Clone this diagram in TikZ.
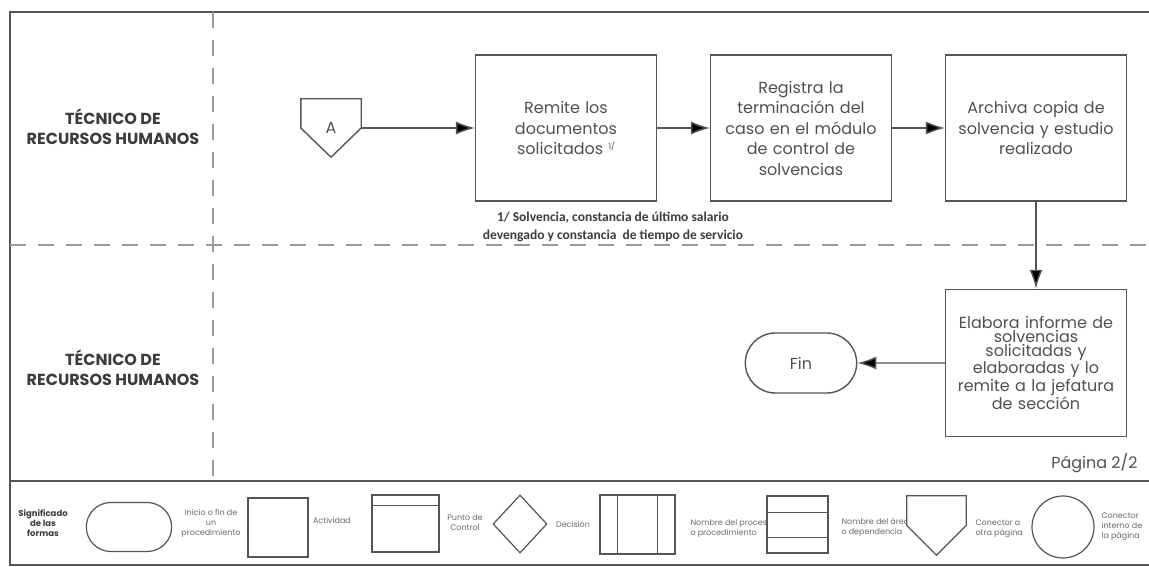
\documentclass[tikz,border=0pt]{standalone}
\usepackage{fontspec}
\setmainfont{Poppins}
\newfontfamily\notefont{Carlito}
\usetikzlibrary{positioning,arrows.meta,shapes.misc,shapes.geometric}
\usepackage{xcolor}
\definecolor{inkgray}{HTML}{505050}
\definecolor{lanegray}{HTML}{3C3C3C}
\definecolor{linegray}{HTML}{555555}
\definecolor{dashgray}{HTML}{9A9A9A}

\begin{document}
\begin{tikzpicture}[x=1pt, y=-1pt, >={Latex[length=19pt,width=13pt]}, node distance=235pt,
	activity/.style={rectangle, draw=linegray, line width=1.4pt, minimum width=177pt, minimum height=146pt, text width=174pt, align=center, text=inkgray, font=\fontsize{16}{20.5}\selectfont},
	terminal/.style={rounded rectangle, draw=linegray, line width=1.4pt, minimum width=118pt, minimum height=60pt, text=inkgray, font=\fontsize{16}{20}\selectfont},
	offpage/.style={minimum width=60pt, minimum height=58pt, inner sep=0pt, text=inkgray, font=\fontsize{16}{20}\selectfont},
	lane/.style={align=center, text=lanegray, font=\bfseries\fontsize{16}{20}\selectfont},
	flow/.style={->, draw=linegray, line width=1.4pt},
	swim/.style={draw=dashgray, line width=1.2pt, dash pattern=on 16pt off 12pt},
	shapeline/.style={draw=linegray, line width=1.2pt},
	legend/.style={align=center, text=inkgray!85, font=\fontsize{8}{10}\selectfont}]
	\useasboundingbox (0,0) rectangle (1149,567);
	% marco y carriles
	\draw[draw=linegray, line width=1.2pt] (1149,12) -- (10,12) -- (10,565) -- (1149,565);
	\draw[draw=linegray, line width=1.2pt] (10,481) -- (1149,481);
	\draw[swim] (213,12) -- (213,481);
	\draw[swim] (10,245) -- (1149,245);
	\node[lane] (laneA) at (113,127) {TÉCNICO DE\\RECURSOS HUMANOS};
	\node[lane] (laneB) at (113,368) {TÉCNICO DE\\RECURSOS HUMANOS};
	% flujo
	\node[offpage] (conA) at (331,128) {A};
	\draw[draw=linegray, line width=1.4pt] (conA.north west) -- (conA.north east) -- (conA.east) -- (conA.south) -- (conA.west) -- cycle;
	\node[activity] (remite) [right of=conA] {Remite los\\documentos\\solicitados {\fontsize{8}{8}\selectfont\raisebox{5pt}{1/}}};
	\node[activity] (registra) [right of=remite] {Registra la\\terminación del\\caso en el módulo\\de control de\\solvencias};
	\node[activity] (archiva) [right of=registra] {Archiva copia de\\solvencia y estudio\\realizado};
	\node[activity, minimum height=147pt, font=\fontsize{16}{14}\selectfont] (elabora) [below of=archiva] {Elabora informe de\\solvencias\\solicitadas y\\elaboradas y lo\\remite a la jefatura\\de sección};
	\node[terminal] (fin) [left of=elabora] {Fin};
	\path[flow] (conA) edge (remite);
	\path[flow] (remite) edge (registra);
	\path[flow] (registra) edge (archiva);
	\path[flow] (archiva) edge (elabora);
	\path[flow] (elabora) edge (fin);
	\node[text=lanegray, align=center, font=\notefont\bfseries\fontsize{13.5}{18}\selectfont] (nota) at (613,227) {1/ Solvencia, constancia de último salario\\devengado y constancia\ \ de tiempo de servicio};
	\node[text=inkgray, anchor=east, font=\fontsize{16}{20}\selectfont] (pagina) at (1141,463) {Página 2/2};
	% significado de las formas
	\node[legend, text=lanegray, font=\bfseries\fontsize{8.5}{10}\selectfont] (signif) at (43,523) {Significado\\de las\\formas};
	\node[rounded rectangle, shapeline, minimum width=92pt, minimum height=49pt] (leyTerm) at (129,527) {};
	\node[legend] (txtTerm) at (211,523) {Inicio o fin de\\un\\procedimiento};
	\node[rectangle, shapeline, minimum width=60pt, minimum height=59pt] (leyAct) at (278,527.5) {};
	\node[legend] (txtAct) at (332,520) {Actividad};
	\node[rectangle, shapeline, minimum width=67pt, minimum height=57pt] (leyCtrl) at (405.5,523.5) {};
	\draw[shapeline] ([yshift=-11pt]leyCtrl.north west) -- ([yshift=-11pt]leyCtrl.north east);
	\node[legend] (txtCtrl) at (465,523) {Punto de\\Control};
	\node[diamond, shapeline, inner sep=0pt, minimum width=54pt, minimum height=58pt] (leyDec) at (520,524) {};
	\node[legend] (txtDec) at (573,524) {Decisión};
	\node[rectangle, shapeline, minimum width=75pt, minimum height=59pt] (leyProc) at (637.5,524.5) {};
	\draw[shapeline] ([xshift=18pt]leyProc.north west) -- ([xshift=18pt]leyProc.south west);
	\draw[shapeline] ([xshift=-18pt]leyProc.north east) -- ([xshift=-18pt]leyProc.south east);
	\node[legend, align=left, anchor=west] (txtProc) at (687,529) {Nombre del proceso\\o procedimiento};
	\node[rectangle, shapeline, fill=white, minimum width=61pt, minimum height=57pt] (leyArea) at (797.5,524.5) {};
	\draw[shapeline] ([yshift=-17pt]leyArea.north west) -- ([yshift=-17pt]leyArea.north east);
	\draw[shapeline] ([yshift=16pt]leyArea.south west) -- ([yshift=16pt]leyArea.south east);
	\node[legend, align=left, anchor=west] (txtArea) at (838,527.5) {Nombre del área\\o dependencia};
	\node[minimum width=59pt, minimum height=59pt, inner sep=0pt] (leyCon) at (936.5,525.5) {};
	\draw[shapeline, fill=white] (leyCon.north west) -- (leyCon.north east) -- (leyCon.east) -- (leyCon.south) -- (leyCon.west) -- cycle;
	\node[legend, align=left, anchor=west] (txtCon) at (972,529) {Conector a\\otra página};
	\node[circle, shapeline, minimum size=62pt] (leyInt) at (1063,527) {};
	\node[legend, align=left, anchor=west] (txtInt) at (1098,527) {Conector\\interno de\\la página};
\end{tikzpicture}
\end{document}
